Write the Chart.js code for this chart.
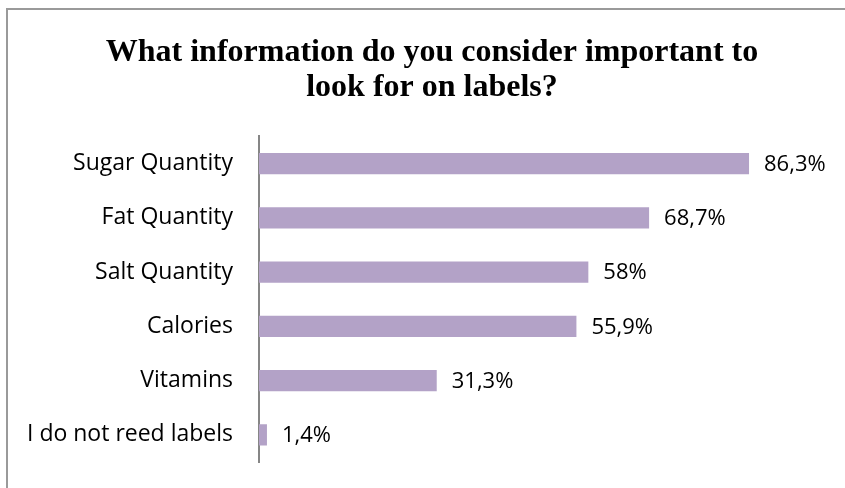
<!DOCTYPE html>
<html>
<head>
<meta charset="utf-8">
<script src="https://cdn.jsdelivr.net/npm/chart.js@4"></script>
<style>
  html, body { margin: 0; padding: 0; background: #ffffff; }
  #wrap { width: 845px; height: 488px; position: relative; }
</style>
</head>
<body>
<div id="wrap"><canvas id="c" width="845" height="488"></canvas></div>
<script>
// Survey answers: what people look for on food labels (share of respondents, %)
const categories = ['Sugar Quantity', 'Fat Quantity', 'Salt Quantity', 'Calories', 'Vitamins', 'I do not reed labels'];
const shares = [86.3, 68.7, 58, 55.9, 31.3, 1.4];
const shareLabels = ['86,3%', '68,7%', '58%', '55,9%', '31,3%', '1,4%'];
const titleLines = ['What information do you consider important to', 'look for on labels?'];

// Frame lines along the top and left edge of the chart box
const framePlugin = {
  id: 'frame',
  beforeDraw(chart) {
    const ctx = chart.ctx;
    ctx.save();
    ctx.strokeStyle = '#9a9a9a';
    ctx.lineWidth = 2;
    ctx.beginPath();
    ctx.moveTo(845, 9);
    ctx.lineTo(7, 9);
    ctx.lineTo(7, 488);
    ctx.stroke();
    ctx.restore();
  }
};

// Percentage text placed just past the end of each bar
const valueLabelPlugin = {
  id: 'valueLabels',
  afterDatasetsDraw(chart) {
    const ctx = chart.ctx;
    const meta = chart.getDatasetMeta(0);
    ctx.save();
    ctx.font = '22px "Open Sans", "Liberation Sans", sans-serif';
    ctx.fillStyle = '#000000';
    ctx.textAlign = 'left';
    ctx.textBaseline = 'middle';
    meta.data.forEach((bar, i) => {
      ctx.fillText(shareLabels[i], bar.x + 15, bar.y + 1);
    });
    ctx.restore();
  }
};

new Chart(document.getElementById('c'), {
  type: 'bar',
  data: {
    labels: categories,
    datasets: [{
      data: shares,
      backgroundColor: '#b3a2c7',
      borderWidth: 0,
      categoryPercentage: 0.8,
      barPercentage: 0.49
    }]
  },
  options: {
    indexAxis: 'y',
    responsive: false,
    animation: false,
    events: [],
    layout: { padding: { left: 19, right: 0, top: 0, bottom: 26 } },
    plugins: {
      legend: { display: false },
      tooltip: { enabled: false },
      title: {
        display: true,
        text: titleLines,
        color: '#000000',
        font: { family: '"Liberation Serif", "Times New Roman", serif', size: 32, weight: 'bold', lineHeight: 1.1 },
        padding: { top: 35, bottom: 31 }
      }
    },
    scales: {
      x: {
        display: false,
        min: 0,
        max: 103.2
      },
      y: {
        afterFit(scale) {
          scale.width = 240;
          scale.paddingTop = 0;
          scale.paddingBottom = 0;
        },
        grid: { display: false, drawTicks: false },
        border: { display: true, color: '#868686', width: 2 },
        ticks: {
          color: '#000000',
          padding: 26,
          font: { family: '"Open Sans", "Liberation Sans", sans-serif', size: 23 }
        }
      }
    }
  },
  plugins: [framePlugin, valueLabelPlugin]
});
</script>
</body>
</html>
